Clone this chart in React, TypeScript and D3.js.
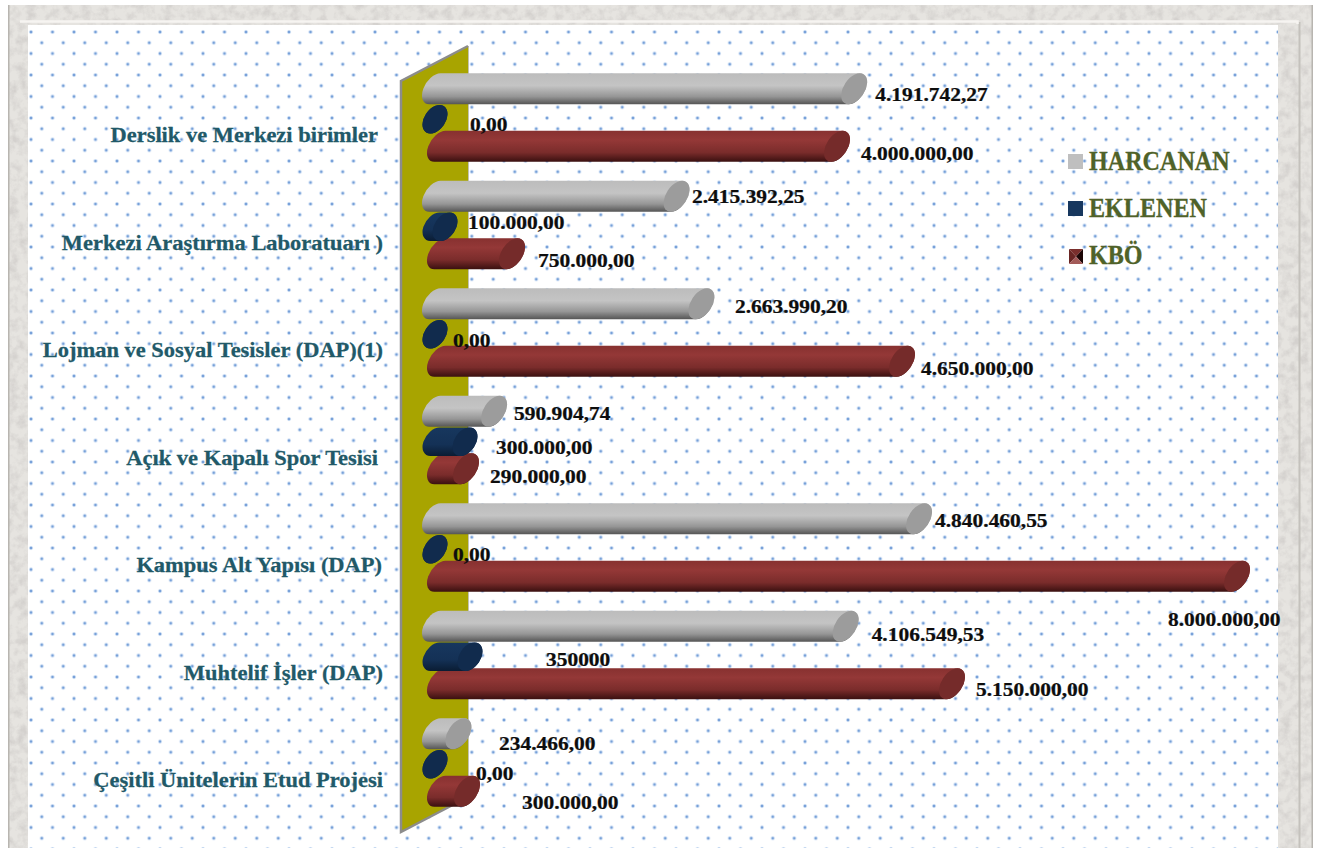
import { useMemo } from 'react';
import { scaleLinear, scaleBand } from 'd3';

const categories = [
  'Derslik ve Merkezi birimler',
  'Merkezi Araştırma Laboratuarı )',
  'Lojman ve Sosyal Tesisler (DAP)(1)',
  'Açık ve Kapalı Spor Tesisi',
  'Kampus Alt Yapısı (DAP)',
  'Muhtelif İşler (DAP)',
  'Çeşitli Ünitelerin Etud Projesi',
];

const harcanan = [4191742.27, 2415392.25, 2663990.2, 590904.74, 4840460.55, 4106549.53, 234466];
const eklenen = [0, 100000, 0, 300000, 0, 350000, 0];
const kbo = [4000000, 750000, 4650000, 290000, 8000000, 5150000, 300000];

const harcananLabels = ['4.191.742,27', '2.415.392,25', '2.663.990,20', '590.904,74', '4.840.460,55', '4.106.549,53', '234.466,00'];
const eklenenLabels = ['0,00', '100.000,00', '0,00', '300.000,00', '0,00', '350000', '0,00'];
const kboLabels = ['4.000.000,00', '750.000,00', '4.650.000,00', '290.000,00', '8.000.000,00', '5.150.000,00', '300.000,00'];

// hand placed data labels, relative to the bar tip and bar centre
const harcananShift = [[8, 5.5], [2.5, 0], [20.6, 2.5], [7, 2], [3, 1.5], [13, 8], [27.6, 9.5]];
const eklenenShift = [[22.5, 5], [10.5, -4.5], [5.5, 6], [18.5, 5.5], [5.5, 5], [63.5, 2.5], [28.5, 9]];
const kboShift = [[11, 7], [13, 6.5], [6, 7], [11, 7.5], [-82, 43], [11, 5.5], [42, 11]];

const labelEnds = [378, 383, 383, 378, 382, 383, 383];

const series = [
  { name: 'HARCANAN', values: harcanan, labels: harcananLabels, shift: harcananShift, dx: -2, dy: -46.5, start: 0, a: 17.3, b: 10.5, tilt: 34, grad: 'gGray', cap: '#9c9c9c' },
  { name: 'EKLENEN', values: eklenen, labels: eklenenLabels, shift: eklenenShift, dx: -2.5, dy: -16, start: 0, a: 15.8, b: 10.5, tilt: 35, grad: 'gBlue', cap: '#112b4d' },
  { name: 'KBÖ', values: kbo, labels: kboLabels, shift: kboShift, dx: 0, dy: 11, start: 3, a: 17.3, b: 10.5, tilt: 34, grad: 'gRed', cap: '#752b2a' },
];

const drawOrder = [2, 1, 0];
const legendSwatchY = [154, 201, 249];
const legendTextY = [161, 208, 255];

const serif = '"Liberation Serif", serif';

const App = () => {
  const x = useMemo(() => scaleLinear().domain([0, 8000000]).range([450, 1250]), []);
  const y = useMemo(() => scaleBand().domain(categories).range([81.5, 834]).padding(0), []);

  const bar = (s: any, i: number) => {
    const rad = (s.tilt * Math.PI) / 180;
    const v = Math.sqrt(s.a ** 2 * Math.cos(rad) ** 2 + s.b ** 2 * Math.sin(rad) ** 2);
    const h = Math.sqrt(s.a ** 2 * Math.sin(rad) ** 2 + s.b ** 2 * Math.cos(rad) ** 2);
    const tan = ((s.a ** 2 - s.b ** 2) * Math.sin(rad) * Math.cos(rad)) / v;
    const cy = y(categories[i])! + y.bandwidth() / 2 + s.dy;
    const c2 = x(s.values[i]) + s.dx - h;
    const c1 = x(0) + s.dx - h + s.start;
    const rot = s.tilt - 90;
    const d = `M${c1 + tan},${cy - v}L${c2 + tan},${cy - v}A${s.a},${s.b} ${rot} 0 1 ${c2 - tan},${cy + v}L${c1 - tan},${cy + v}A${s.a},${s.b} ${rot} 0 1 ${c1 + tan},${cy - v}Z`;
    return (
      <g key={s.name + i}>
        <path d={d} fill={`url(#${s.grad})`} />
        <ellipse cx={c2} cy={cy} rx={s.b} ry={s.a} fill={s.cap} transform={`rotate(${s.tilt} ${c2} ${cy})`} />
      </g>
    );
  };

  const valueLabel = (s: any, i: number) => {
    const cy = y(categories[i])! + y.bandwidth() / 2 + s.dy;
    const lx = x(s.values[i]) + s.dx + s.shift[i][0];
    return (
      <text key={s.name + i} transform={`translate(${lx},${cy + s.shift[i][1]}) scale(1.1,1)`} dy="0.34em"
        fontFamily={serif} fontWeight="bold" fontSize={19.5} fill="#0d0d0d" stroke="#0d0d0d" strokeWidth={0.25}>
        {s.labels[i]}
      </text>
    );
  };

  return (
    <svg width={1318} height={848} style={{ position: 'fixed', left: 0, top: 0, display: 'block' }}>
      <defs>
        <radialGradient id="dotGlow">
          <stop offset="0" stopColor="#6c98d4" />
          <stop offset="0.35" stopColor="#7ba3da" />
          <stop offset="0.6" stopColor="#d6e4f5" />
          <stop offset="1" stopColor="#ffffff" stopOpacity={0} />
        </radialGradient>
        <pattern id="dots" x={20.25} y={21.25} width={21.5} height={21.5} patternUnits="userSpaceOnUse">
          <circle cx={10.75} cy={10.75} r={2.8} fill="url(#dotGlow)" />
          <circle cx={21.5} cy={21.5} r={2.8} fill="url(#dotGlow)" />
          <circle cx={0} cy={0} r={2.8} fill="url(#dotGlow)" />
          <circle cx={21.5} cy={0} r={2.8} fill="url(#dotGlow)" />
          <circle cx={0} cy={21.5} r={2.8} fill="url(#dotGlow)" />
        </pattern>
        <filter id="stone" x="0" y="0" width="100%" height="100%">
          <feTurbulence type="fractalNoise" baseFrequency="0.11" numOctaves={4} seed={4} />
          <feColorMatrix values="0 0 0 0 0.66  0 0 0 0 0.64  0 0 0 0 0.62  2.4 0 0 0 -0.95" />
          <feComposite in2="SourceGraphic" operator="in" />
        </filter>
        <linearGradient id="gGray" x1="0" y1="0" x2="0" y2="1">
          <stop offset="0" stopColor="#bcbcbc" />
          <stop offset="0.4" stopColor="#c4c4c4" />
          <stop offset="0.75" stopColor="#969696" />
          <stop offset="1" stopColor="#555555" />
        </linearGradient>
        <linearGradient id="gBlue" x1="0" y1="0" x2="0" y2="1">
          <stop offset="0" stopColor="#17375e" />
          <stop offset="0.6" stopColor="#143156" />
          <stop offset="1" stopColor="#0a1c33" />
        </linearGradient>
        <linearGradient id="gRed" x1="0" y1="0" x2="0" y2="1">
          <stop offset="0" stopColor="#873130" />
          <stop offset="0.3" stopColor="#943837" />
          <stop offset="0.7" stopColor="#7a2c2b" />
          <stop offset="1" stopColor="#3a1010" />
        </linearGradient>
      </defs>

      <rect width={1318} height={848} fill="#ffffff" />

      {/* stone frame */}
      <rect x={8} y={5} width={1305} height={843} fill="#e6e4e0" />
      <rect x={8} y={5} width={1305} height={843} fill="#fff" filter="url(#stone)" />
      <rect x={8} y={5} width={1.5} height={843} fill="#b8b5b0" />
      <rect x={1298.5} y={22} width={2} height={826} fill="#c4c1bc" />
      <rect x={1311.5} y={5} width={1.5} height={843} fill="#b8b5b0" />
      <polyline points="20,21.5 1297.5,21.5 1297.5,24" fill="none" stroke="#f6f4f1" strokeWidth={2.5} />
      <rect x={28} y={25} width={1250} height={823} fill="#ffffff" />
      <rect x={28} y={25} width={1250} height={823} fill="url(#dots)" />

      {/* back wall */}
      <polygon points="401,81 468,46 468,797 401,832" fill="#a8a400" />
      <line x1={468.5} y1={46} x2={468.5} y2={797} stroke="#c2c2b0" strokeWidth={1} />
      <polyline points="468,46 401,81 401,832 468,797" fill="none" stroke="#8c8c8c" strokeWidth={2.5} />

      {categories.map((c, i) => (
        <text key={c} transform={`translate(${labelEnds[i]},${y(c)! + y.bandwidth() / 2}) scale(1.07,1)`} dy="0.34em" textAnchor="end"
          fontFamily={serif} fontWeight="bold" fontSize={21} fill="#215968" stroke="#215968" strokeWidth={0.25}>
          {c}
        </text>
      ))}

      {categories.map((_, i) => drawOrder.map((k) => bar(series[k], i)))}
      {categories.map((_, i) => series.map((s) => valueLabel(s, i)))}

      {/* legend */}
      <rect x={1068} y={legendSwatchY[0]} width={15} height={15} fill="#bfbfbf" />
      <rect x={1068} y={legendSwatchY[1]} width={15} height={15} fill="#17375e" />
      <g transform={`translate(1069,${legendSwatchY[2]})`}>
        <polygon points="0,0 14,0 7,7.5" fill="#7a2e2c" />
        <polygon points="0,0 7,7.5 0,15" fill="#6a2624" />
        <polygon points="14,0 14,15 7,7.5" fill="#1c0606" />
        <polygon points="0,15 14,15 7,7.5" fill="#a35a58" />
      </g>
      {series.map((s, i) => (
        <text key={s.name} transform={`translate(1089,${legendTextY[i]}) scale(0.91,1)`} dy="0.34em"
          fontFamily={serif} fontWeight="bold" fontSize={26.5} fill="#4f6228" stroke="#4f6228" strokeWidth={0.3}>
          {s.name}
        </text>
      ))}
    </svg>
  );
};

export default App;
